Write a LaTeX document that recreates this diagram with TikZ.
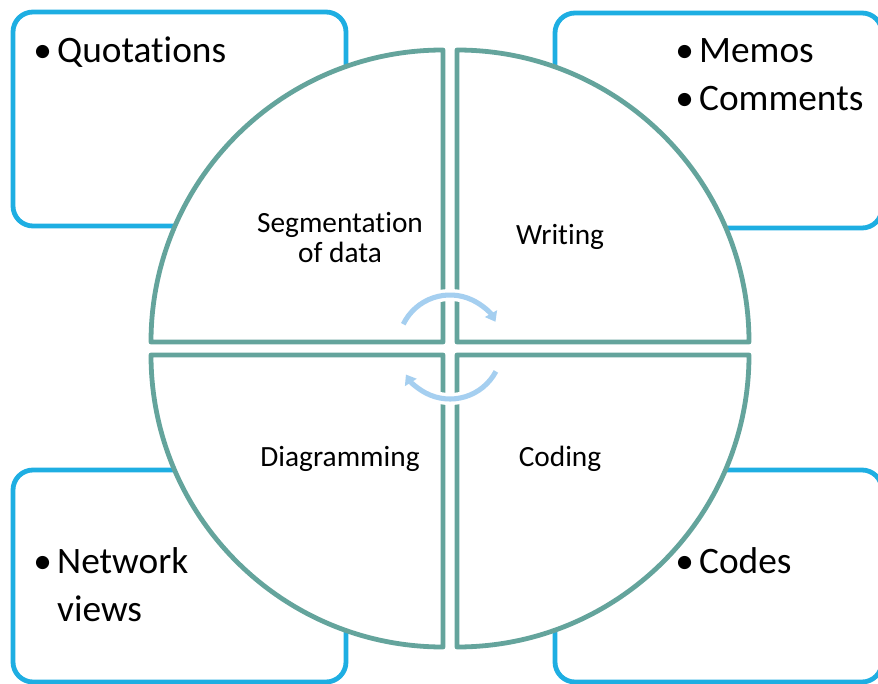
\documentclass[tikz,border=0pt]{standalone}
\usepackage{fontspec}
\setmainfont{Carlito}[Ligatures=NoCommon]
\usetikzlibrary{arrows.meta}

\definecolor{boxblue}{RGB}{30,174,226}
\definecolor{quadteal}{RGB}{100,164,156}
\definecolor{cyclblue}{RGB}{165,207,240}

\newcommand{\bigtxt}{\fontsize{28}{36}\selectfont}
\newcommand{\midtxt}{\fontsize{22}{22.5}\selectfont}

\begin{document}
\begin{tikzpicture}[x=0.75pt,y=0.75pt,
    sidebox/.style={draw=boxblue,line width=3.6pt,rounded corners=15pt},
    quadrant/.style={draw=quadteal,fill=white,line width=3.6pt,line join=round},
    cyclearrow/.style={draw=cyclblue,line width=3.8pt,
        -{Triangle[length=7pt,width=10pt]},
        preaction={draw=white,line width=9pt,-}},
    label/.style={inner sep=0pt,text=black,font=\midtxt,anchor=base},
    bullets/.style={inner sep=0pt,text=black,font=\bigtxt,anchor=base west}]
\clip (0,0) rectangle (878,683);

% side boxes
\draw [sidebox] (13,671) rectangle (346,457);
\draw [sidebox] (555,670) rectangle (882,455);
\draw [sidebox] (13,213) rectangle (346,1);
\draw [sidebox] (555,213) rectangle (882,1);

% quadrants
\draw [quadrant] (443,341) -- ++(-292,0) arc (180:90:292) -- cycle;
\draw [quadrant] (457,341) -- ++(0,292) arc (90:0:292) -- cycle;
\draw [quadrant] (443,328) -- ++(0,-292) arc (270:180:292) -- cycle;
\draw [quadrant] (457,328) -- ++(292,0) arc (0:-90:292) -- cycle;

% cycle arrows
\draw [cyclearrow] (450,336) ++(154:52) arc (154:29:52);
\draw [cyclearrow] (450,336) ++(-28:52) arc (-28:-148:52);

% quadrant labels
\node [label] (seg) at (340,421) {%
  \begin{tabular}[b]{@{}c@{}}Segmentation\\of data\end{tabular}};
\node [label] (wri) at (560,438) {Writing};
\node [label] (dia) at (340,217) {Diagramming};
\node [label] (cod) at (560,217) {Coding};

% box contents
\node [bullets] (quot) at (33,620) {%
  \begin{tabular}[t]{@{}l@{\hspace{4pt}}l@{}}\textbullet & Quotations\end{tabular}};
\node [bullets] (memo) at (675,620) {%
  \begin{tabular}[t]{@{}l@{\hspace{4pt}}l@{}}\textbullet & Memos\\ \textbullet & Comments\end{tabular}};
\node [bullets] (netw) at (33,110) {%
  \begin{tabular}[t]{@{}l@{\hspace{4pt}}l@{}}\textbullet & Network\\ & views\end{tabular}};
\node [bullets] (code) at (675,110) {%
  \begin{tabular}[t]{@{}l@{\hspace{4pt}}l@{}}\textbullet & Codes\end{tabular}};

\end{tikzpicture}
\end{document}
